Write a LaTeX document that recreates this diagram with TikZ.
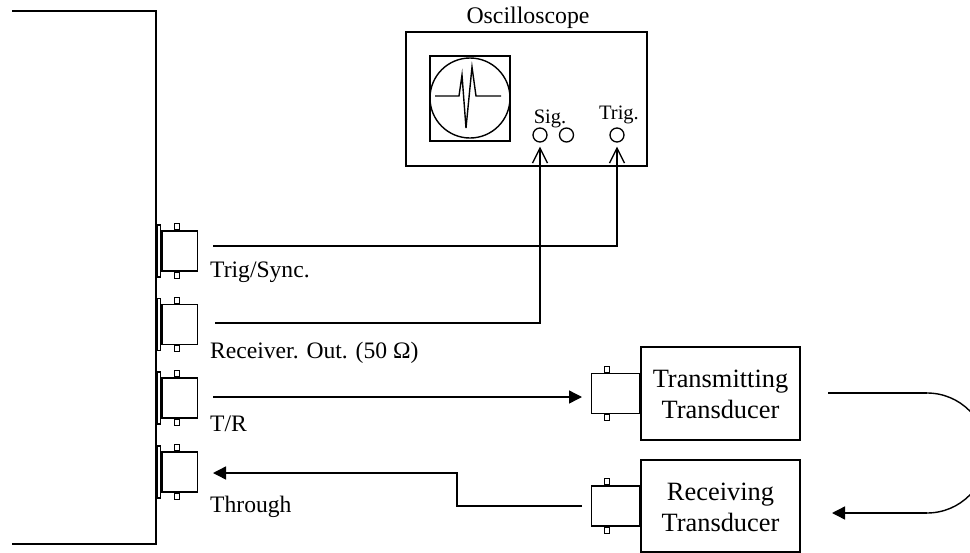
\documentclass[tikz,border=0pt]{standalone}
\usepackage{fontspec}
\setmainfont{Liberation Serif}
\usetikzlibrary{positioning,arrows.meta}
\tikzset{
  lbl/.style={inner sep=0pt,anchor=base west,font=\fontsize{23.6}{27}\selectfont},
  jacklbl/.style={inner sep=0pt,anchor=base,font=\fontsize{20.5}{24}\selectfont},
  boxlbl/.style={inner sep=0pt,align=center,font=\fontsize{26.4}{31}\selectfont},
  txbox/.style={draw,line width=1.4pt,minimum width=159pt,inner sep=0pt},
  bncbody/.style={draw,line width=1.5pt,minimum width=35.3pt,minimum height=40pt,inner sep=0pt},
  flange/.style={draw,line width=1.2pt,minimum width=3.7pt,minimum height=52pt,inner sep=0pt},
  bncpin/.style={draw,line width=1.2pt,minimum width=5pt,minimum height=6pt,inner sep=0pt},
  jack/.style={draw,circle,line width=1.3pt,minimum size=14pt,inner sep=0pt},
  openarrow/.style={-{Straight Barb[length=15pt,width=15pt,line width=1.3pt]},line width=1.4pt},
  filledarrow/.style={-{Triangle[length=13pt,width=13pt]},line width=1.4pt}
}
\begin{document}
\begin{tikzpicture}[x=1pt,y=1pt,yscale=-1,xscale=1]
        \useasboundingbox (0,0) rectangle (970,552);
        \clip (0,0) rectangle (970,552);
        %Panel
        \draw[line width=2pt] (12,11) -- (156,11) -- (156,544) -- (12,544);
        %Panel connectors
        \foreach \name/\y in {trig/251,recv/324.5,tr/398,thru/472}{
          \node[flange] (\name flange) at (158.9,\y) {};
          \node[bncbody,right=0pt of \name flange] (\name body) {};
          \node[bncpin,anchor=south,xshift=16pt] (\name pintop) at (\name body.north west) {};
          \node[bncpin,anchor=north,xshift=16pt] (\name pinbot) at (\name body.south west) {};
        }
        % Text Node
        \node[lbl] (trigtext) at (210,277) {Trig/Sync.};
        \node[lbl] (recvtext) at (210,358) {Receiver. Out. (50 Ω)};
        \node[lbl] (trtext) at (210,431) {T/R};
        \node[lbl] (thrutext) at (210,512) {Through};
        %Oscilloscope
        \node[draw,line width=1.4pt,minimum width=241pt,minimum height=134pt,inner sep=0pt] (scope) at (526.5,99) {};
        \node[inner sep=0pt,anchor=base,font=\fontsize{23.8}{28}\selectfont] (scopetext) at (528,23) {Oscilloscope};
        \node[draw,line width=1.4pt,minimum width=80pt,minimum height=85pt,inner sep=0pt] (screen) at (470,98.5) {};
        \node[draw,circle,line width=1.4pt,minimum size=80pt,inner sep=0pt] (tube) at (470,98) {};
        \draw[line width=1.4pt] (435,96) -- (459,96) -- (462,75) -- (466,128) -- (472,67) -- (476,96) -- (501,96);
        \node[jack] (sigjack) at (540,135) {};
        \node[jack] (auxjack) at (566.5,135) {};
        \node[jack] (trigjack) at (617,135) {};
        \node[jacklbl] (sigtext) at (550,123) {Sig.};
        \node[jacklbl] (trigjacktext) at (619,119) {Trig.};
        %Transducers
        \node[txbox,minimum height=93pt] (tx) at (720.5,393.5) {};
        \node[txbox,minimum height=92pt] (rx) at (720.5,506) {};
        \node[boxlbl] (txtext) at (720.5,394.5) {Transmitting\\Transducer};
        \node[boxlbl] (rxtext) at (720.5,507) {Receiving\\Transducer};
        \node[bncbody,minimum width=48pt,left=0pt of tx.west] (txbody) {};
        \node[bncbody,minimum width=48pt,left=0pt of rx.west] (rxbody) {};
        \foreach \name in {tx,rx}{
          \node[bncpin,anchor=south,xshift=16pt] (\name pintop) at (\name body.north west) {};
          \node[bncpin,anchor=north,xshift=16pt] (\name pinbot) at (\name body.south west) {};
        }
        %Straight Lines
        \coordinate (trigstart) at (213,246);
        \coordinate (recvstart) at (215,323);
        \coordinate (trstart) at (213,397);
        \coordinate (txend) at (582,397);
        \coordinate (thruend) at (213,473);
        \coordinate (rxstart) at (582,506);
        \coordinate (jogtop) at (457,473);
        \coordinate (jogbot) at (457,506);
        \draw[openarrow,shorten >=4pt] (trigstart) -| (trigjack.south);
        \draw[openarrow,shorten >=4pt] (recvstart) -| (sigjack.south);
        \draw[filledarrow] (trstart) -- (txend);
        \draw[filledarrow] (rxstart) -- (jogbot) -- (jogtop) -- (thruend);
        %Loop through the specimen
        \coordinate (loopstart) at (828,393);
        \coordinate (loopa) at (927,393);
        \coordinate (loopb) at (927,513);
        \coordinate (loopend) at (832,513);
        \draw[line width=2pt] (loopstart) -- (loopa);
        \draw[line width=1.4pt] (loopa) arc[start angle=-90,end angle=90,radius=60pt];
        \draw[filledarrow] (loopb) -- (loopend);
\end{tikzpicture}
\end{document}
